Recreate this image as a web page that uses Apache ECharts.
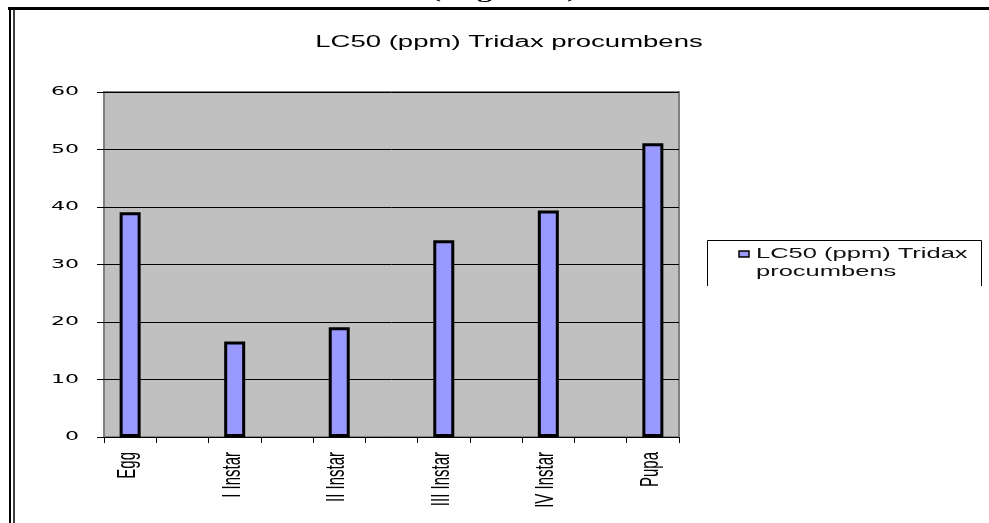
<!DOCTYPE html>
<html>
<head>
<meta charset="utf-8">
<script src="https://cdn.jsdelivr.net/npm/echarts@6/dist/echarts.min.js"></script>
<style>
html,body{margin:0;padding:0;background:#fff;}
#chart{width:989px;height:523px;}
</style>
</head>
<body>
<div id="chart"></div>
<script>
const categories = ['Egg', '', 'I Instar', '', 'II Instar', '', 'III Instar', '', 'IV Instar', '', 'Pupa'];
const values = [39.1, null, 16.6, null, 19.1, null, 34.2, null, 39.4, null, 51.1];
const seriesName = 'LC50 (ppm) Tridax procumbens';
const yTicks = [0, 10, 20, 30, 40, 50, 60];

const chart = echarts.init(document.getElementById('chart'), null, {renderer: 'canvas'});
chart.setOption({
  animation: false,
  backgroundColor: '#ffffff',
  grid: {
    left: 104, top: 92, right: 310, bottom: 86,
    show: true, backgroundColor: '#C0C0C0', borderColor: '#808080', borderWidth: 2
  },
  legend: {show: false},
  xAxis: {
    type: 'category',
    data: categories,
    axisLine: {show: true, lineStyle: {color: '#000', width: 1}},
    axisTick: {show: true, interval: 0, length: 6, inside: false, lineStyle: {color: '#000'}},
    axisLabel: {show: false}
  },
  yAxis: {
    type: 'value',
    min: yTicks[0], max: yTicks[yTicks.length - 1], interval: 10,
    axisLine: {show: false},
    axisTick: {show: true, length: 7, lineStyle: {color: '#000'}},
    axisLabel: {show: false},
    splitLine: {show: true, lineStyle: {color: '#000', width: 1}}
  },
  series: [{
    name: seriesName,
    type: 'bar',
    data: values,
    barWidth: 21,
    itemStyle: {color: '#9999FF', borderColor: '#000', borderWidth: 3}
  }]
});

const g = [
  {type: 'text', x: 504, y: 2, scaleX: 1.85, style: {text: '(stage wise)', font: 'bold 16px "Liberation Serif", serif', fill: '#000', align: 'center', verticalAlign: 'bottom'}},
  {type: 'text', x: 509, y: 43, scaleX: 1.72, style: {text: seriesName, font: '16px "Liberation Sans", Arial, sans-serif', fill: '#000', align: 'center', verticalAlign: 'middle'}},
  {type: 'line', shape: {x1: 8, y1: 8.5, x2: 989, y2: 8.5}, style: {stroke: '#000', lineWidth: 3}},
  {type: 'line', shape: {x1: 10, y1: 7, x2: 10, y2: 523}, style: {stroke: '#000', lineWidth: 2}},
  {type: 'line', shape: {x1: 14, y1: 10, x2: 14, y2: 523}, style: {stroke: '#000', lineWidth: 1.5}},
  {type: 'polyline', shape: {points: [[707.5, 286], [707.5, 240.5], [981.5, 240.5], [981.5, 286]]}, style: {stroke: '#000', lineWidth: 1, fill: null}},
  {type: 'rect', shape: {x: 739, y: 251, width: 10, height: 6}, style: {fill: '#9999FF', stroke: '#000', lineWidth: 1.5}},
  {type: 'text', x: 756, y: 245, scaleX: 1.7, style: {text: 'LC50 (ppm) Tridax\nprocumbens', font: '15px "Liberation Sans", Arial, sans-serif', fill: '#111', lineHeight: 18, align: 'left', verticalAlign: 'top'}}
];
yTicks.forEach(function (v) {
  const py = chart.convertToPixel({yAxisIndex: 0}, v);
  g.push({type: 'text', x: 79, y: py, scaleX: 1.7, style: {text: String(v), font: '13px "DejaVu Sans", Verdana, sans-serif', fill: '#000', align: 'right', verticalAlign: 'middle'}});
});
categories.forEach(function (c, i) {
  if (!c) return;
  const px = chart.convertToPixel({xAxisIndex: 0}, i);
  g.push({type: 'text', x: px - 2, y: 452, rotation: Math.PI / 2, scaleY: 1.7, style: {text: c, font: '15px "Liberation Sans Narrow", "Arial Narrow", sans-serif', fill: '#000', align: 'right', verticalAlign: 'middle'}});
});
chart.setOption({graphic: g});
</script>
</body>
</html>
